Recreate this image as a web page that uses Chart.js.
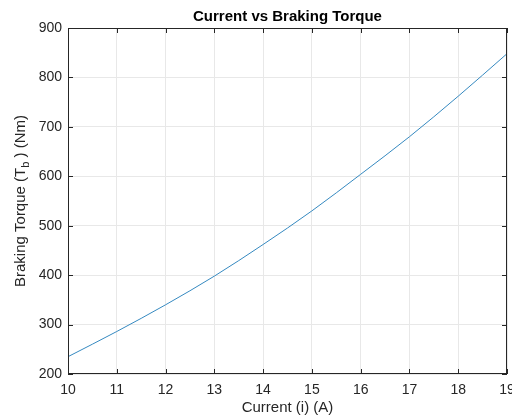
<!DOCTYPE html>
<html>
<head>
<meta charset="utf-8">
<script src="https://cdn.jsdelivr.net/npm/chart.js@4"></script>
<style>
    html, body { margin: 0; padding: 0; background: #ffffff; }
    #wrap { width: 512px; height: 418px; }
</style>
</head>
<body>
<div id="wrap"><canvas id="torque-graph" width="512" height="418"></canvas></div>
<script>
// current (A) and braking torque (Nm)
let current_data = [10, 11, 12, 13, 14, 15, 16, 17, 18, 19];
let torque_data = [235, 286, 340, 398, 462, 530, 604, 680, 762, 848];
let x_ticks = [10, 11, 12, 13, 14, 15, 16, 17, 18, 19];
let y_ticks = [200, 300, 400, 500, 600, 700, 800, 900];

const FONT = "'Liberation Sans', Arial, Helvetica, sans-serif";
const AXIS_COLOR = '#262626';

// box round the plot area with small inward ticks on all sides
const boxPlugin = {
    id: 'box',
    afterDraw(chart) {
        const ctx = chart.ctx;
        const a = chart.chartArea;
        const xs = chart.scales.x, ys = chart.scales.y;
        ctx.save();
        ctx.strokeStyle = AXIS_COLOR;
        ctx.lineWidth = 1;
        ctx.strokeRect(Math.round(a.left) + 0.5, Math.round(a.top) + 0.5,
            Math.round(a.right - a.left) - 1, Math.round(a.bottom - a.top) - 1);
        ctx.beginPath();
        for (let v of x_ticks) {
            let px = Math.round(xs.getPixelForValue(v)) + 0.5;
            ctx.moveTo(px, a.bottom); ctx.lineTo(px, a.bottom - 5);
            ctx.moveTo(px, a.top); ctx.lineTo(px, a.top + 5);
        }
        for (let v of y_ticks) {
            let py = Math.round(ys.getPixelForValue(v)) + 0.5;
            ctx.moveTo(a.left, py); ctx.lineTo(a.left + 5, py);
            ctx.moveTo(a.right, py); ctx.lineTo(a.right - 5, py);
        }
        ctx.stroke();
        ctx.restore();
    }
};

// y label with a subscript b
const yLabelPlugin = {
    id: 'ylabel',
    afterDraw(chart) {
        const ctx = chart.ctx;
        const a = chart.chartArea;
        const parts = [
            { t: 'Braking Torque (T', size: 15, dy: 0 },
            { t: 'b', size: 11, dy: 5 },
            { t: ' ) (Nm)', size: 15, dy: 0 }
        ];
        ctx.save();
        let total = 0;
        for (let p of parts) {
            ctx.font = p.size + 'px ' + FONT;
            p.w = ctx.measureText(p.t).width;
            total += p.w;
        }
        ctx.translate(21, (a.top + a.bottom) / 2);
        ctx.rotate(-Math.PI / 2);
        ctx.fillStyle = AXIS_COLOR;
        ctx.textBaseline = 'middle';
        let x = -total / 2;
        for (let p of parts) {
            ctx.font = p.size + 'px ' + FONT;
            ctx.fillText(p.t, x, p.dy);
            x += p.w;
        }
        ctx.restore();
    }
};

const points = current_data.map((c, i) => ({ x: c, y: torque_data[i] }));

new Chart(document.getElementById('torque-graph'), {
    type: 'line',
    data: {
        datasets: [{
            label: 'Braking torque',
            data: points,
            borderColor: '#3589c0',
            borderWidth: 1,
            pointRadius: 0,
            fill: false,
            cubicInterpolationMode: 'monotone'
        }]
    },
    options: {
        responsive: false,
        animation: false,
        layout: { padding: { left: 0, right: 5, top: 0, bottom: 0 } },
        scales: {
            x: {
                type: 'linear',
                min: 10, max: 19,
                afterFit: (s) => { s.height = 44; s.paddingRight = 0; s.paddingLeft = 0; },
                afterBuildTicks: (s) => { s.ticks = x_ticks.map(v => ({ value: v })); },
                border: { display: false },
                grid: { color: '#e8e8e8', drawTicks: false },
                ticks: { color: AXIS_COLOR, padding: 8, font: { family: FONT, size: 14 } },
                title: {
                    display: true,
                    text: 'Current (i) (A)',
                    color: AXIS_COLOR,
                    padding: { top: 0, bottom: 1 },
                    font: { family: FONT, size: 15 }
                }
            },
            y: {
                min: 200, max: 900,
                afterFit: (s) => { s.width = 68; },
                afterBuildTicks: (s) => { s.ticks = y_ticks.map(v => ({ value: v })); },
                border: { display: false },
                grid: { color: '#e8e8e8', drawTicks: false },
                ticks: { color: AXIS_COLOR, padding: 6, font: { family: FONT, size: 14 } }
            }
        },
        plugins: {
            legend: { display: false },
            tooltip: { enabled: false },
            title: {
                display: true,
                fullSize: false,
                text: 'Current vs Braking Torque',
                color: '#000000',
                padding: { top: 8, bottom: 2 },
                font: { family: FONT, size: 15, weight: 'bold' }
            }
        }
    },
    plugins: [boxPlugin, yLabelPlugin]
});
</script>
</body>
</html>
